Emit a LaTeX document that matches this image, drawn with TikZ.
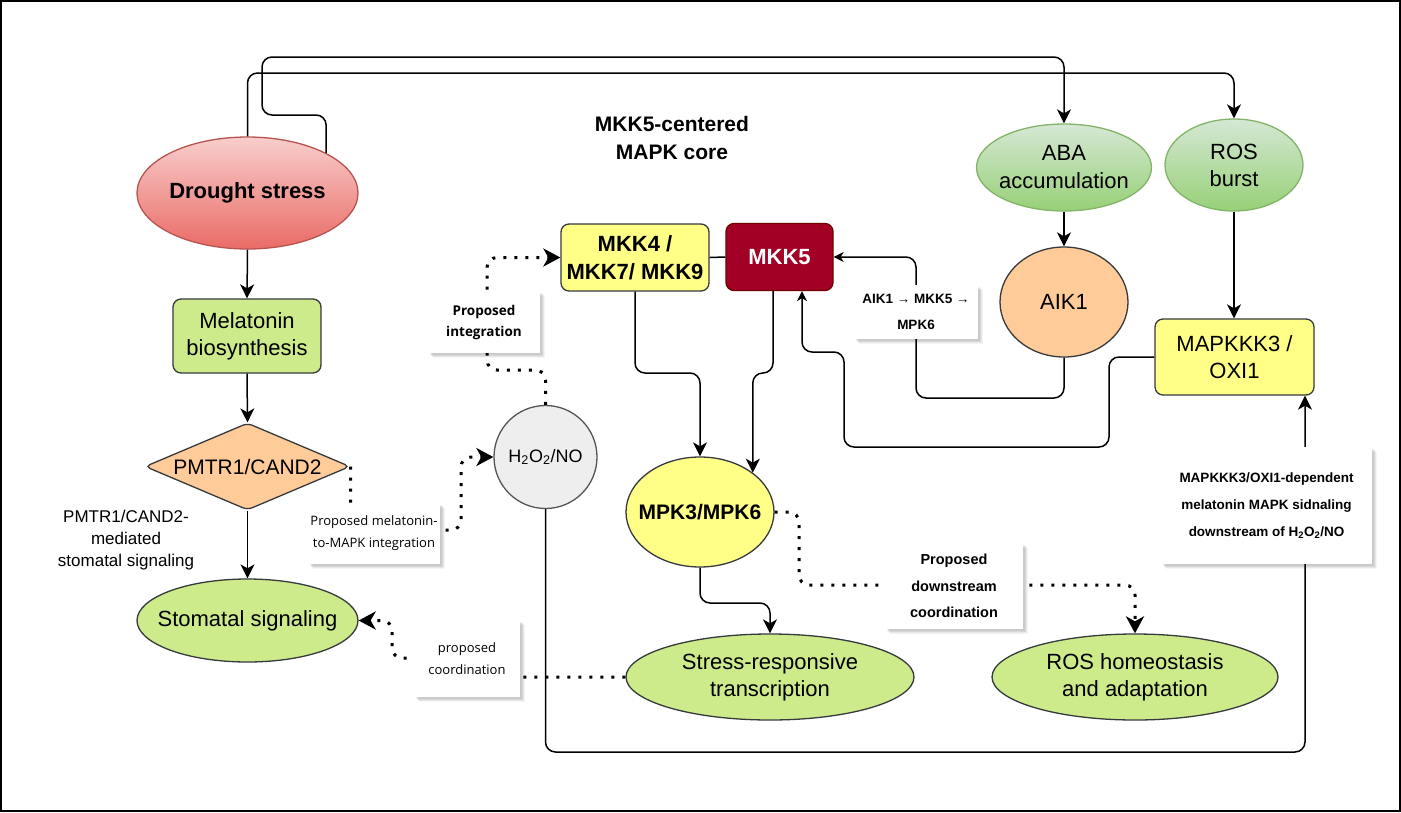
\documentclass[tikz,border=0pt]{standalone}
\usepackage{fontspec}
\setmainfont{Liberation Sans}
\newfontfamily\opensans{Open Sans}
\usetikzlibrary{shapes.geometric,arrows.meta,shadows}
\definecolor{drTop}{HTML}{F8CECC}
\definecolor{drBot}{HTML}{EA6B66}
\definecolor{drBord}{HTML}{B85450}
\definecolor{gTop}{HTML}{D5E8D4}
\definecolor{gBot}{HTML}{97D077}
\definecolor{gBord}{HTML}{82B366}
\definecolor{lgreen}{HTML}{CDEB8B}
\definecolor{bord}{HTML}{36393D}
\definecolor{peach}{HTML}{FFCC99}
\definecolor{yel}{HTML}{FFFF88}
\definecolor{mkred}{HTML}{A20025}
\definecolor{mkbord}{HTML}{6F0000}
\definecolor{lgray}{HTML}{EEEEEE}
\definecolor{grayb}{HTML}{555555}
\newcommand\myfs[2]{\fontsize{#1}{#2}\selectfont}
\begin{document}
\begin{tikzpicture}[x=1pt,y=-1pt,
  conn/.style={line width=1.5pt, -{Stealth[length=14pt,width=14pt,inset=4pt]}, rounded corners=10pt},
  thinarr/.style={line width=1.5pt, -{Stealth[length=10pt,width=10pt,inset=3pt]}, rounded corners=10pt},
  dotarr/.style={line width=3pt, dash pattern=on 3pt off 8pt, -{Stealth[length=17pt,width=18pt,inset=5pt]}, rounded corners=10pt},
  ell/.style={ellipse, draw=bord, line width=1.3pt, inner sep=0pt},
  nbox/.style={rectangle, rounded corners=8pt, draw=bord, line width=1.3pt, inner sep=0pt, align=center},
  note/.style={rectangle, fill=white, inner sep=0pt, align=center,
    drop shadow={shadow xshift=5pt, shadow yshift=-5pt, fill=black, opacity=0.04},
    drop shadow={shadow xshift=4pt, shadow yshift=-4pt, fill=black, opacity=0.06},
    drop shadow={shadow xshift=3pt, shadow yshift=-3pt, fill=black, opacity=0.07},
    drop shadow={shadow xshift=1.5pt, shadow yshift=-1.5pt, fill=black, opacity=0.06}},
]
\useasboundingbox (0,0) rectangle (1401,812);
\draw[line width=1.5pt] (1,1) rectangle (1400,811);

% main nodes
\node[ell, minimum width=221pt, minimum height=112pt, top color=drTop, bottom color=drBot, draw=drBord,
  label={[font=\bfseries\myfs{22}{27}]center:Drought stress}] (dr) at (247.5,193) {};
\node[nbox, fill=lgreen, minimum width=148pt, minimum height=74pt, font=\myfs{22}{27}] (mel) at (247,336) {Melatonin\\biosynthesis};
\node[diamond, draw=bord, line width=1.3pt, fill=peach, minimum width=205pt, minimum height=87pt, inner sep=0pt, rounded corners=5pt,
  label={[font=\myfs{21}{26}]center:PMTR1/CAND2}] (pm) at (247.5,466.5) {};
\node[font=\myfs{17}{22}, align=center] (pmlab) at (126,540) {PMTR1/CAND2-\\mediated\\stomatal signaling};
\node[ell, fill=lgreen, minimum width=221pt, minimum height=83pt,
  label={[font=\myfs{22}{27}]center:Stomatal signaling}] (st) at (247.5,620.5) {};
\node[circle, draw=grayb, line width=1.3pt, fill=lgray, minimum size=103pt, inner sep=0pt, font=\myfs{18}{22}] (h2) at (545.5,457) {H\textsubscript{2}O\textsubscript{2}/NO};
\node[nbox, fill=yel, minimum width=148pt, minimum height=67pt, font=\bfseries\myfs{22}{28}] (mkk4) at (635,257.5) {MKK4 /\\MKK7/ MKK9};
\node[nbox, fill=mkred, draw=mkbord, text=white, minimum width=107pt, minimum height=67pt, font=\bfseries\myfs{22}{28}] (mkk5) at (779.5,257) {MKK5};
\node[font=\bfseries\myfs{21}{28}, align=center] (title) at (672,138) {MKK5-centered\\MAPK core};
\node[ell, top color=gTop, bottom color=gBot, draw=gBord, minimum width=175pt, minimum height=87pt,
  label={[font=\myfs{22}{28},align=center]center:ABA\\accumulation}] (aba) at (1064,167.5) {};
\node[ell, top color=gTop, bottom color=gBot, draw=gBord, minimum width=138pt, minimum height=92pt,
  label={[font=\myfs{22}{27},align=center]center:ROS\\burst}] (ros) at (1234,165) {};
\node[ell, fill=peach, minimum width=128pt, minimum height=110pt,
  label={[font=\myfs{22}{27}]center:AIK1}] (aik) at (1064,302) {};
\node[nbox, fill=yel, minimum width=159pt, minimum height=76pt, font=\myfs{22}{27}] (mapk3) at (1234.5,357) {MAPKKK3 /\\OXI1};
\node[ell, fill=yel, minimum width=148pt, minimum height=110pt,
  label={[font=\bfseries\myfs{21}{26}]center:MPK3/MPK6}] (mpk) at (700,512) {};
\node[ell, fill=lgreen, minimum width=288pt, minimum height=86pt,
  label={[font=\myfs{22}{27},align=center]center:Stress-responsive\\transcription}] (stress) at (770,677) {};
\node[ell, fill=lgreen, minimum width=286pt, minimum height=86pt,
  label={[font=\myfs{22}{27},align=center]center:ROS homeostasis\\and adaptation}] (rosh) at (1135,677) {};

% solid connectors
\draw[conn] (dr.north east) |- (262,115) |- (aba.north |- 0,57) -- (aba.north);
\draw[conn] (dr.north) |- (ros.north |- 0,73) -- (ros.north);
\draw[conn] (dr.south) -- (mel.north);
\draw[conn] (mel.south) -- (pm.north);
\draw[conn] (pm.south) -- (st.north);
\draw[conn] (aba.south) -- (aik.north);
\draw[conn] (ros.south) -- (mapk3.north -| ros.south);
\draw[thinarr] (aik.south) |- (916,398) |- (mkk5.east);
\draw[thinarr] (mapk3.west) -| (1109,447) -| (844,352) -| (mkk5.south -| 802,0);
\draw[conn] (h2.south) |- (1305,752) -- (mapk3.south -| 1305,0);
\draw[line width=1.5pt] (mkk4.east) -- (mkk5.west);
\draw[conn] (mkk4.south) |- (700,373) -- (mpk.north);
\draw[conn] (mkk5.south -| 773,0) |- (mpk.north east |- 0,373) -- (mpk.north east);
\draw[conn] (mpk.south) |- (stress.north |- 0,603) -- (stress.north);

% dotted connectors
\draw[dotarr] (pm.east) |- (461,530) |- (h2.west);
\draw[dotarr] (h2.north) |- (487,370) |- (mkk4.west);
\draw[dotarr] (mpk.east) -| (799,585) -| (rosh.north);
\draw[dotarr] (stress.west) -| (470,658) -| (392,620.5) -- (st.east);

% notes
\node[note, minimum width=132pt, minimum height=61pt, font=\opensans\myfs{13}{22}] (n1) at (374,533.5) {Proposed melatonin-\\to-MAPK integration};
\node[note, minimum width=112pt, minimum height=62pt, font=\opensans\bfseries\myfs{13.5}{21}] (n2) at (484,322) {Proposed\\integration};
\node[note, minimum width=124pt, minimum height=54pt, font=\bfseries\myfs{13.5}{26}] (n3) at (916,312) {AIK1 → MKK5 →\\MPK6};
\node[note, minimum width=138pt, minimum height=86pt, font=\bfseries\myfs{14.5}{26.5}] (n4) at (954,586) {Proposed\\downstream\\coordination};
\node[note, minimum width=211pt, minimum height=117pt, font=\bfseries\myfs{13.5}{27}] (n5) at (1266.5,505.5) {MAPKKK3/OXI1-dependent\\melatonin MAPK sidnaling\\downstream of H\textsubscript{2}O\textsubscript{2}/NO};
\node[note, minimum width=106pt, minimum height=77pt, font=\opensans\myfs{13}{22}] (n6) at (467,658.5) {proposed\\coordination};
\end{tikzpicture}
\end{document}
